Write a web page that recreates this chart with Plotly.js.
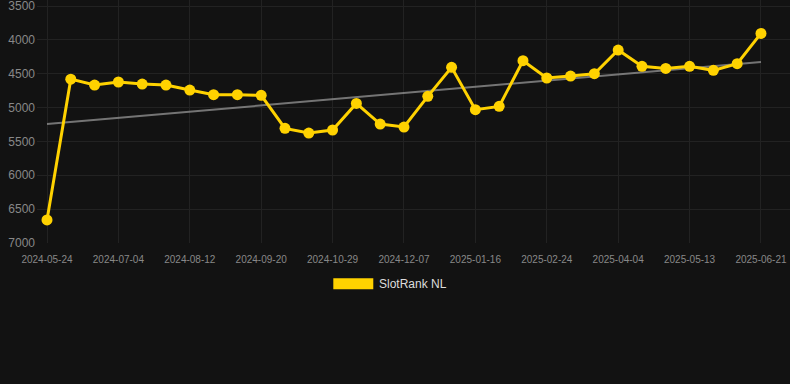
<!DOCTYPE html>
<html>
<head>
<meta charset="utf-8">
<script src="https://cdn.plot.ly/plotly-3.0.1.min.js"></script>
<style>
html,body{margin:0;padding:0;background:#121212;}
#chart{width:790px;height:384px;}
</style>
</head>
<body>
<div id="chart"></div>
<script>
var dates = [
  "2024-05-24","2024-06-06","2024-06-19","2024-07-04","2024-07-17","2024-07-30",
  "2024-08-12","2024-08-25","2024-09-07","2024-09-20","2024-10-03","2024-10-16",
  "2024-10-29","2024-11-11","2024-11-24","2024-12-07","2024-12-20","2025-01-02",
  "2025-01-16","2025-01-29","2025-02-11","2025-02-24","2025-03-09","2025-03-22",
  "2025-04-04","2025-04-17","2025-04-30","2025-05-13","2025-05-26","2025-06-08",
  "2025-06-21"
];
var ranks = [
  6660, 4580, 4667, 4622, 4652, 4667,
  4741, 4810, 4810, 4819, 5307, 5376,
  5331, 4938, 5243, 5287, 4834, 4406,
  5031, 4982, 4308, 4563, 4534, 4500,
  4150, 4391, 4421, 4391, 4450, 4352,
  3904
];
var trendDates = ["2024-05-24", "2025-06-21"];
var trendValues = [5243, 4327];
var tickLabels = ["2024-05-24","2024-07-04","2024-08-12","2024-09-20","2024-10-29",
  "2024-12-07","2025-01-16","2025-02-24","2025-04-04","2025-05-13","2025-06-21"];
var yTicks = [3500, 4000, 4500, 5000, 5500, 6000, 6500, 7000];
var seriesName = "SlotRank NL";

var yellow = "#FFD200";

var traces = [
  {
    x: trendDates, y: trendValues, type: "scatter", mode: "lines",
    line: {color: "rgba(150,150,150,0.75)", width: 2},
    hoverinfo: "skip", showlegend: false
  },
  {
    x: dates, y: ranks, type: "scatter", mode: "lines+markers",
    name: seriesName,
    line: {color: yellow, width: 3},
    marker: {color: yellow, size: 11},
    showlegend: false
  }
];

var layout = {
  width: 790, height: 384,
  paper_bgcolor: "#121212", plot_bgcolor: "#121212",
  margin: {l: 37, r: 0, t: 0, b: 141},
  font: {family: "Liberation Sans, Arial, sans-serif", color: "#888"},
  showlegend: false,
  xaxis: {
    type: "category",
    categoryorder: "array", categoryarray: dates,
    range: [-0.42, 31.22],
    tickmode: "array", tickvals: tickLabels, ticktext: tickLabels,
    tickfont: {size: 10, color: "#888"},
    showgrid: true, gridcolor: "#222", gridwidth: 1,
    zeroline: false, showline: false, ticks: "", ticklabelstandoff: 9,
    ticklabeloverflow: "allow"
  },
  yaxis: {
    range: [7000, 3411],
    tickmode: "array", tickvals: yTicks,
    tickfont: {size: 12, color: "#888"},
    showgrid: true, gridcolor: "#222", gridwidth: 1,
    zeroline: false, showline: false, ticks: "", ticklabelstandoff: 1,
    ticklabeloverflow: "allow"
  },
  shapes: [{
    type: "rect", xref: "paper", yref: "paper",
    x0: 0.3935, x1: 0.4466, y0: -0.1905, y1: -0.1453,
    fillcolor: yellow, line: {width: 0}
  }],
  annotations: [{
    text: seriesName, xref: "paper", yref: "paper",
    x: 0.4515, y: -0.1687, xanchor: "left", yanchor: "middle",
    showarrow: false, font: {size: 12, color: "#ddd"}
  }]
};

Plotly.newPlot("chart", traces, layout, {displayModeBar: false, staticPlot: true});
</script>
</body>
</html>
